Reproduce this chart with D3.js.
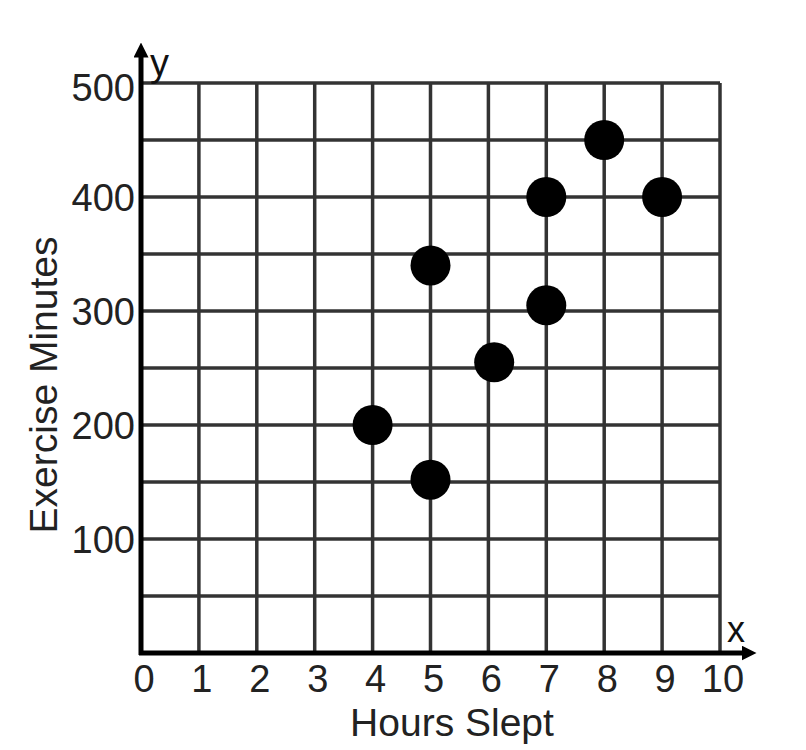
<!DOCTYPE html>
<html><head><meta charset="utf-8">
<script src="https://cdn.jsdelivr.net/npm/d3@7"></script>
<style>body{margin:0;background:#fff}svg{display:block}</style>
</head><body>
<svg id="c" width="806" height="750"></svg>
<script>
const hours   = [4, 5, 5, 6.1, 7, 7, 8, 9];
const minutes = [200, 152, 340, 255, 305, 400, 450, 400];
const xTicks = [0,1,2,3,4,5,6,7,8,9,10];
const yTicks = [100,200,300,400,500];
const yGrid = [50,100,150,200,250,300,350,400,450,500];
const xLabel = "Hours Slept", yLabel = "Exercise Minutes";

const svg = d3.select("#c");
const x = d3.scaleLinear().domain([0,10]).range([141,720]);
const y = d3.scaleLinear().domain([0,500]).range([653,83]);
const font = "'Liberation Sans', Arial, sans-serif";

// gridlines
svg.append("g").selectAll("line").data(xTicks.slice(1)).join("line")
  .attr("x1",d=>x(d)).attr("x2",d=>x(d)).attr("y1",y(500)).attr("y2",y(0))
  .attr("stroke","#333").attr("stroke-width",3.5);
svg.append("g").selectAll("line").data(yGrid).join("line")
  .attr("x1",x(0)).attr("x2",x(10)).attr("y1",d=>y(d)).attr("y2",d=>y(d))
  .attr("stroke","#333").attr("stroke-width",3.5);

// axes with arrows
svg.append("defs").append("marker").attr("id","arr").attr("viewBox","0 0 10 10")
  .attr("refX",5).attr("refY",5).attr("markerWidth",3).attr("markerHeight",3)
  .attr("orient","auto").append("path").attr("d","M0,0L10,5L0,10z").attr("fill","#000");
svg.append("line").attr("x1",x(0)).attr("x2",x(0)).attr("y1",y(0)+2).attr("y2",50)
  .attr("stroke","#000").attr("stroke-width",5).attr("marker-end","url(#arr)");
svg.append("line").attr("x1",x(0)-2).attr("x2",749).attr("y1",y(0)).attr("y2",y(0))
  .attr("stroke","#000").attr("stroke-width",5).attr("marker-end","url(#arr)");

// tick labels
svg.append("g").selectAll("text").data(xTicks).join("text")
  .attr("x",d=>x(d)+3).attr("y",692).attr("text-anchor","middle")
  .attr("font-family",font).attr("font-size",38).attr("fill","#222").text(d=>d);
svg.append("g").selectAll("text").data(yTicks).join("text")
  .attr("x",135).attr("y",d=>y(d)+ (d===500?18:14)).attr("text-anchor","end")
  .attr("font-family",font).attr("font-size",38).attr("fill","#222").text(d=>d);

// axis letters
svg.append("text").attr("x",150).attr("y",76).attr("font-family",font).attr("font-size",38).attr("fill","#111").text("y");
svg.append("text").attr("x",727).attr("y",642).attr("font-family",font).attr("font-size",36).attr("fill","#111").text("x");

// titles
svg.append("text").attr("x",452).attr("y",736).attr("text-anchor","middle")
  .attr("font-family",font).attr("font-size",39).attr("fill","#222").text(xLabel);
svg.append("text").attr("transform","translate(57,385) rotate(-90)").attr("text-anchor","middle")
  .attr("font-family",font).attr("font-size",39).attr("fill","#222").text(yLabel);

// points
svg.append("g").selectAll("circle").data(hours.map((h,i)=>[h,minutes[i]])).join("circle")
  .attr("cx",d=>x(d[0])).attr("cy",d=>y(d[1])).attr("r",20).attr("fill","#000");
</script>
</body></html>
